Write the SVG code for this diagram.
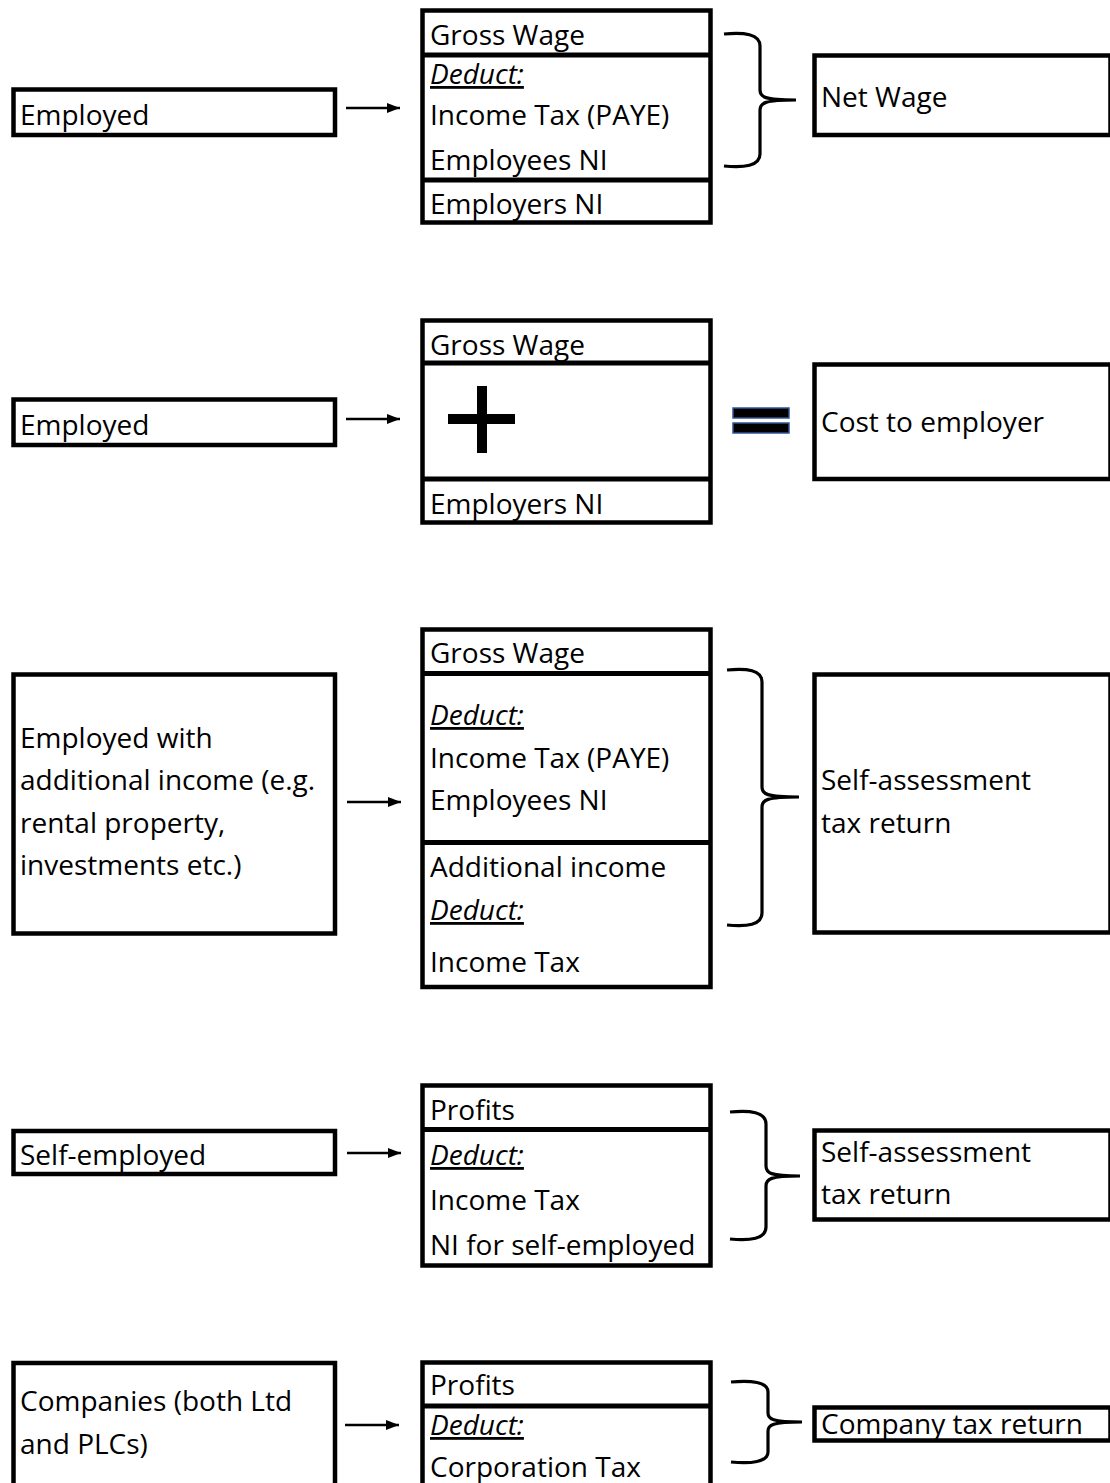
<svg xmlns="http://www.w3.org/2000/svg" width="1110" height="1483" viewBox="0 0 1110 1483">
<style>
  .box{fill:#fff;stroke:#000;stroke-width:4.5}
  .div{stroke:#000;stroke-width:5}
  .t{font-family:"Open Sans","Noto Sans","Liberation Sans",sans-serif;font-size:28px;fill:#000}
  .d{font-style:italic;text-decoration:underline}
  .arrow{stroke:#000;stroke-width:2.5;fill:none}
  .brace{stroke:#000;stroke-width:3.2;fill:none;stroke-linejoin:miter}
  .op{fill:#000}
  .eq{fill:#000;stroke:#2F5597;stroke-width:1.5}
</style>
<defs>
  <marker id="ah" markerUnits="userSpaceOnUse" markerWidth="14" markerHeight="12" refX="13" refY="5" orient="auto">
    <path d="M0,0 L13,5 L0,10 z" fill="#000"/>
  </marker>
</defs>
<rect width="1110" height="1483" fill="#fff"/>

<!-- Section 1 -->
<g id="employed1">
  <rect class="box" x="13.5" y="89.5" width="321.5" height="45.5"/>
  <text class="t" x="20" y="125">Employed</text>
</g>
<g id="wage1">
  <rect class="box" x="422.5" y="10.5" width="288" height="212"/>
  <line class="div" x1="422" y1="55" x2="711" y2="55"/>
  <line class="div" x1="422" y1="180" x2="711" y2="180"/>
  <text class="t" x="430" y="45">Gross Wage</text>
  <text class="t d" x="430" y="84">Deduct:</text>
  <text class="t" x="430" y="125">Income Tax (PAYE)</text>
  <text class="t" x="430" y="170">Employees NI</text>
  <text class="t" x="430" y="214">Employers NI</text>
</g>
<g id="netwage">
  <rect class="box" x="814.5" y="55.5" width="296" height="79.5"/>
  <text class="t" x="821" y="107">Net Wage</text>
</g>

<!-- Section 2 -->
<g id="employed2">
  <rect class="box" x="13.5" y="399.5" width="321.5" height="45.5"/>
  <text class="t" x="20" y="435">Employed</text>
</g>
<g id="wage2">
  <rect class="box" x="422.5" y="320.5" width="288" height="202"/>
  <line class="div" x1="422" y1="363" x2="711" y2="363"/>
  <line class="div" x1="422" y1="479" x2="711" y2="479"/>
  <text class="t" x="430" y="355">Gross Wage</text>
  <rect class="op" x="477" y="386" width="10" height="67"/>
  <rect class="op" x="448" y="414" width="67" height="10"/>
  <text class="t" x="430" y="514">Employers NI</text>
</g>
<g id="equals">
  <rect class="eq" x="733" y="408" width="56" height="10"/>
  <rect class="eq" x="733" y="423" width="56" height="10"/>
</g>
<g id="cost">
  <rect class="box" x="814.5" y="364.5" width="296" height="114.5"/>
  <text class="t" x="821" y="432">Cost to employer</text>
</g>

<!-- Section 3 -->
<g id="employed3">
  <rect class="box" x="13.5" y="674.5" width="321.5" height="259"/>
  <text class="t" x="20" y="748">Employed with</text>
  <text class="t" x="20" y="790">additional income (e.g.</text>
  <text class="t" x="20" y="833">rental property,</text>
  <text class="t" x="20" y="875">investments etc.)</text>
</g>
<g id="wage3">
  <rect class="box" x="422.5" y="629.5" width="288" height="357.5"/>
  <line class="div" x1="422" y1="673.5" x2="711" y2="673.5"/>
  <line class="div" x1="422" y1="842.5" x2="711" y2="842.5"/>
  <text class="t" x="430" y="663">Gross Wage</text>
  <text class="t d" x="430" y="725">Deduct:</text>
  <text class="t" x="430" y="768">Income Tax (PAYE)</text>
  <text class="t" x="430" y="810">Employees NI</text>
  <text class="t" x="430" y="877">Additional income</text>
  <text class="t d" x="430" y="920">Deduct:</text>
  <text class="t" x="430" y="972">Income Tax</text>
</g>
<g id="selfassess1">
  <rect class="box" x="814.5" y="674.5" width="296" height="258"/>
  <text class="t" x="821" y="790">Self-assessment</text>
  <text class="t" x="821" y="833">tax return</text>
</g>

<!-- Section 4 -->
<g id="selfemployed">
  <rect class="box" x="13.5" y="1131" width="321.5" height="43"/>
  <text class="t" x="20" y="1165">Self-employed</text>
</g>
<g id="profits1">
  <rect class="box" x="422.5" y="1085.5" width="288" height="180"/>
  <line class="div" x1="422" y1="1129.5" x2="711" y2="1129.5"/>
  <text class="t" x="430" y="1120">Profits</text>
  <text class="t d" x="430" y="1165">Deduct:</text>
  <text class="t" x="430" y="1210">Income Tax</text>
  <text class="t" x="430" y="1255">NI for self-employed</text>
</g>
<g id="selfassess2">
  <rect class="box" x="814.5" y="1130.5" width="296" height="89"/>
  <text class="t" x="821" y="1162">Self-assessment</text>
  <text class="t" x="821" y="1204">tax return</text>
</g>

<!-- Section 5 -->
<g id="companies">
  <rect class="box" x="13.5" y="1363" width="321.5" height="200"/>
  <text class="t" x="20" y="1411">Companies (both Ltd</text>
  <text class="t" x="20" y="1454">and PLCs)</text>
</g>
<g id="profits2">
  <rect class="box" x="422.5" y="1362.5" width="288" height="200"/>
  <line class="div" x1="422" y1="1406" x2="711" y2="1406"/>
  <text class="t" x="430" y="1395">Profits</text>
  <text class="t d" x="430" y="1435">Deduct:</text>
  <text class="t" x="430" y="1477">Corporation Tax</text>
</g>
<g id="companytax">
  <rect class="box" x="814.5" y="1407.5" width="296" height="33"/>
  <text class="t" x="821" y="1434">Company tax return</text>
</g>

<!-- Connectors -->
<g id="connectors">
  <line class="arrow" x1="346" y1="108" x2="400" y2="108" marker-end="url(#ah)"/>
  <line class="arrow" x1="346" y1="419" x2="400" y2="419" marker-end="url(#ah)"/>
  <line class="arrow" x1="347" y1="802" x2="401" y2="802" marker-end="url(#ah)"/>
  <line class="arrow" x1="347" y1="1153" x2="401" y2="1153" marker-end="url(#ah)"/>
  <line class="arrow" x1="345" y1="1425" x2="399" y2="1425" marker-end="url(#ah)"/>

  <path class="brace" d="M724,34 C744,32 760,34 760,46 L760,90 C760,97 764,100 796,100 M724,166 C744,168 760,166 760,154 L760,110 C760,103 764,100 796,100"/>
  <path class="brace" d="M727,670 C747,668 762,670 762,682 L762,787 C762,794 766,797 799,797 M727,925 C747,927 762,925 762,913 L762,807 C762,800 766,797 799,797"/>
  <path class="brace" d="M730,1112 C750,1110 766,1112 766,1124 L766,1166 C766,1173 770,1176 800,1176 M730,1239 C750,1241 766,1239 766,1227 L766,1186 C766,1179 770,1176 800,1176"/>
  <path class="brace" d="M731,1382 C751,1380 768,1382 768,1392 L768,1413 C768,1419 772,1422 802,1422 M731,1462 C751,1464 768,1462 768,1452 L768,1431 C768,1425 772,1422 802,1422"/>
</g>
</svg>
